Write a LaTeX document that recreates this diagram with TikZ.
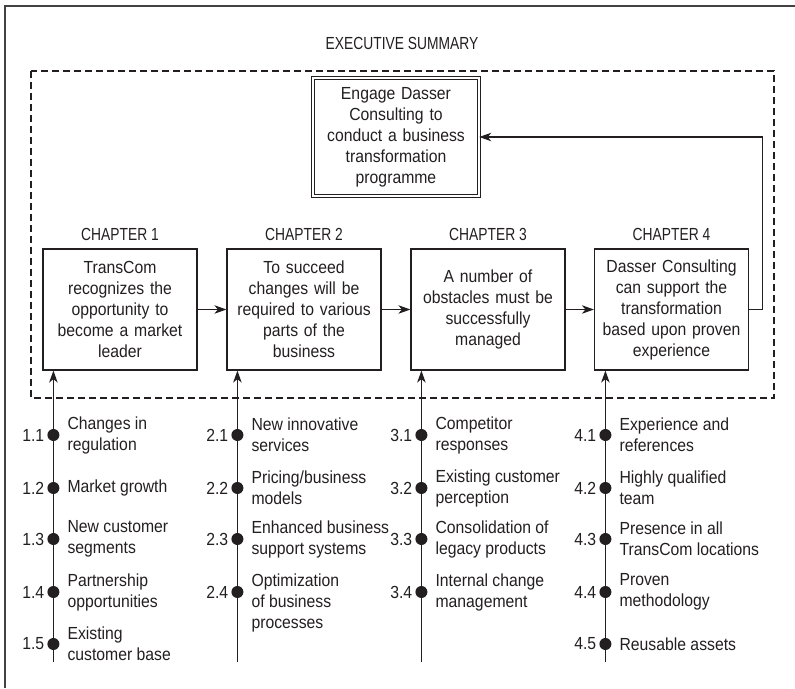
\documentclass[tikz,border=0pt]{standalone}
\usepackage{fontspec}
\setmainfont[FakeStretch=0.9]{Liberation Sans}
\newfontfamily\capsfont[FakeStretch=0.79]{Liberation Sans}
\usetikzlibrary{arrows.meta,calc}

\definecolor{ink}{HTML}{231F20}

\tikzset{
  bodytext/.style={font=\fontsize{17.5}{21}\selectfont, text=ink},
  capstext/.style={font=\capsfont\fontsize{17.5}{21}\selectfont, text=ink},
  chapbox/.style={draw=ink, line width=1.2pt, minimum width=154pt, minimum height=121pt,
    text width=150pt, align=center, inner sep=0pt, bodytext},
  goalbox/.style={draw=ink, line width=1pt, double=white, double distance=2.2pt,
    minimum width=165.5pt, minimum height=117.5pt, text width=160pt, align=center,
    inner sep=0pt, bodytext},
  flow/.style={draw=ink, line width=1.2pt, -{Stealth[length=12pt,width=8.5pt,inset=3.5pt]}},
  dotmark/.style={circle, fill=ink, inner sep=0pt, minimum size=12pt},
  itemtext/.style={bodytext, anchor=west, align=left, inner sep=0pt},
  itemnum/.style={bodytext, anchor=east, inner sep=0pt},
}

\begin{document}
\begin{tikzpicture}[x=1pt, y=-1pt]
\useasboundingbox (0,0) rectangle (795,688);

% page frame (top and left rules)
\draw[ink!85, line width=1.4pt] (5,688) -- (5,6) -- (795,6);

% executive summary area
\node[capstext] (exec) at (402,43) {EXECUTIVE SUMMARY};
\draw[ink, line width=1.1pt, dash pattern=on 7pt off 4pt] (31,71) rectangle (774,398);

% goal
\node[goalbox] (goal) at (396,137) {Engage Dasser\\Consulting to\\conduct a business\\transformation\\programme};

% chapters
\node[chapbox] (c1) at (120,309.5) {TransCom\\recognizes the\\opportunity to\\become a market\\leader};
\node[chapbox] (c2) at (304,309.5) {To succeed\\changes will be\\required to various\\parts of the\\business};
\node[chapbox] (c3) at (488,309.5) {A number of\\obstacles must be\\successfully\\managed};
\node[chapbox] (c4) at (671.5,309.5) {Dasser Consulting\\can support the\\transformation\\based upon proven\\experience};

\foreach \i in {1,2,3,4}{
  \node[capstext] (h\i) at ($(c\i.north)+(0,-14)$) {CHAPTER \i};
}

% chapter flow
\draw[flow] (c1.east) -- (c2.west);
\draw[flow] (c2.east) -- (c3.west);
\draw[flow] (c3.east) -- (c4.west);
\draw[flow] (c4.east) -- ++(13,0) |- (goal.east);

% supporting points
\foreach \i in {1,2,3}{
  \coordinate (s\i) at ($(c\i.south west)+(11,0)$);
}
\coordinate (s4) at ($(c4.south west)+(11.5,0)$);
\foreach \i in {1,2,3,4}{
  \coordinate (e\i) at (s\i |- 0,662);
  \draw[flow] (e\i) -- (s\i);
}

\foreach \c/\k/\y/\dy/\txt in {
  1/1/435/0/{Changes in\\regulation},
  1/2/488/0/{Market growth},
  1/3/539/0/{New customer\\segments},
  1/4/592/0/{Partnership\\opportunities},
  1/5/644/0/{Existing\\customer base},
  2/1/435/0/{New innovative\\services},
  2/2/488/0/{Pricing/business\\models},
  2/3/539/0/{Enhanced business\\support systems},
  2/4/592/-10.5/{Optimization\\of business\\processes},
  3/1/435/0/{Competitor\\responses},
  3/2/488/0/{Existing customer\\perception},
  3/3/539/0/{Consolidation of\\legacy products},
  3/4/592/0/{Internal change\\management},
  4/1/435/0/{Experience and\\references},
  4/2/488/0/{Highly qualified\\team},
  4/3/539/0/{Presence in all\\TransCom locations},
  4/4/592/0/{Proven\\methodology},
  4/5/644/0/{Reusable assets}}{
  \node[dotmark] (d\c-\k) at (s\c |- 0,\y) {};
  \node[itemnum] (n\c-\k) at ([xshift=-9pt]d\c-\k.center) {\c.\k};
  \node[itemtext, yshift=\dy pt] (t\c-\k) at ([xshift=14pt]d\c-\k.center) {\txt};
}
\end{tikzpicture}
\end{document}
